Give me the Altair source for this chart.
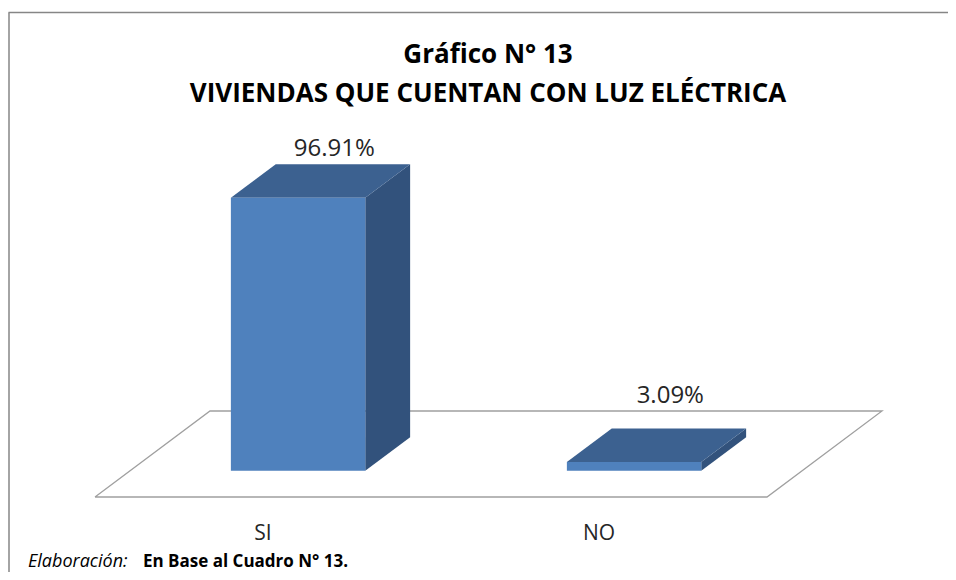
import altair as alt
import pandas as pd

# ---------------- data ----------------
categories = ["SI", "NO"]
values = [96.91, 3.09]
value_labels = ["96.91%", "3.09%"]
title_lines = ["Gráfico N° 13", "VIVIENDAS QUE CUENTAN CON LUZ ELÉCTRICA"]
footer_italic = "Elaboración:"
footer_bold = "En Base al Cuadro N° 13."

# ---------------- layout / projection ----------------
W, H = 940, 564
PX_PER_SLOT = 336.0            # px per category slot
PX_PER_PCT = 273.0 / 96.91     # px per percent
ORIGIN_X = 87.0                # chart px of floor front-left corner
ORIGIN_Y = 489.0
DEPTH_DU = 115.0 / PX_PER_SLOT  # depth offset, in slot units
DEPTH_DV = 86.0 / PX_PER_PCT    # depth offset, in percent units
BAR_U0, BAR_U1 = 0.3, 0.7
BAR_W0, BAR_W1 = 0.305, 0.695
LABEL_GAP = 8.5 / PX_PER_PCT

xscale = alt.Scale(domain=[-ORIGIN_X / PX_PER_SLOT, (W - ORIGIN_X) / PX_PER_SLOT], nice=False, zero=False)
yscale = alt.Scale(domain=[(ORIGIN_Y - H) / PX_PER_PCT, ORIGIN_Y / PX_PER_PCT], nice=False, zero=False)

FRONT = "#4F81BD"
TOP = "#3C6190"
SIDE = "#32527C"
FONT = "Open Sans"


def proj(u, v, w):
    return u + DEPTH_DU * w, v + DEPTH_DV * w


front_rows, side_rows, top_rows, label_rows, cat_rows = [], [], [], [], []
for i, (cat, val, lab) in enumerate(zip(categories, values, value_labels)):
    fl_u, fb_v = proj(i + BAR_U0, 0, BAR_W0)
    fr_u, ft_v = proj(i + BAR_U1, val, BAR_W0)
    bl_u, bb_v = proj(i + BAR_U0, 0, BAR_W1)
    br_u, bt_v = proj(i + BAR_U1, val, BAR_W1)
    front_rows.append(dict(bar=cat, x=fl_u, x2=fr_u, y=fb_v, y2=ft_v))
    side_rows += [dict(bar=cat, x=fr_u, y=fb_v, y2=ft_v),
                  dict(bar=cat, x=br_u, y=bb_v, y2=bt_v)]
    top_rows += [dict(bar=cat, x=fl_u, y=ft_v, y2=ft_v),
                 dict(bar=cat, x=bl_u, y=ft_v, y2=bt_v),
                 dict(bar=cat, x=fr_u, y=ft_v, y2=bt_v),
                 dict(bar=cat, x=br_u, y=bt_v, y2=bt_v)]
    lu, _ = proj(i + 0.5, 0, 0.62)
    floor_back_v = proj(0, 0, 1.0)[1]
    label_rows.append(dict(x=lu, y=max(bt_v, floor_back_v) + LABEL_GAP, text=lab))
    cat_rows.append(dict(x=i + 0.5, text=cat))

floor_pts = [(0, 0, 0), (len(categories), 0, 0), (len(categories), 0, 1), (0, 0, 1), (0, 0, 0)]
floor_rows = []
for k, (u, v, w) in enumerate(floor_pts):
    pu, pv = proj(u, v, w)
    floor_rows.append(dict(order=k, x=pu, y=pv))

front_df = pd.DataFrame(front_rows)
side_df = pd.DataFrame(side_rows)
top_df = pd.DataFrame(top_rows)
label_df = pd.DataFrame(label_rows)
cat_df = pd.DataFrame(cat_rows)
floor_df = pd.DataFrame(floor_rows)

X = lambda f: alt.X(f, type="quantitative", scale=xscale, axis=None)
Y = lambda f: alt.Y(f, type="quantitative", scale=yscale, axis=None, stack=None)

floor = alt.Chart(floor_df).mark_line(color="#A0A0A0", strokeWidth=1.3).encode(
    x=X("x"), y=Y("y"), order="order:Q")

side = alt.Chart(side_df).mark_area(color=SIDE, interpolate="linear").encode(
    x=X("x"), y=Y("y"), y2="y2", detail="bar:N")

top = alt.Chart(top_df).mark_area(color=TOP, interpolate="linear").encode(
    x=X("x"), y=Y("y"), y2="y2", detail="bar:N")

front = alt.Chart(front_df).mark_rect(color=FRONT).encode(
    x=X("x"), x2="x2", y=Y("y"), y2="y2")

vlabels = alt.Chart(label_df).mark_text(font=FONT, fontSize=24, color="#262626", baseline="alphabetic").encode(
    x=X("x"), y=Y("y"), text="text:N")

clabels = alt.Chart(cat_df).mark_text(font=FONT, fontSize=21, color="#262626", baseline="alphabetic").encode(
    x=X("x"), y=alt.value(532), text="text:N")

title_df = pd.DataFrame({"text": title_lines, "line": [0, 1]})
title1 = alt.Chart(title_df[title_df.line == 0]).mark_text(
    font=FONT, fontSize=26, fontWeight="bold", color="#000000", baseline="alphabetic").encode(
    x=alt.value(480), y=alt.value(55), text="text:N")
title2 = alt.Chart(title_df[title_df.line == 1]).mark_text(
    font=FONT, fontSize=26, fontWeight="bold", color="#000000", baseline="alphabetic").encode(
    x=alt.value(480), y=alt.value(94), text="text:N")

foot_df = pd.DataFrame({"a": [footer_italic], "b": [footer_bold]})
foot1 = alt.Chart(foot_df).mark_text(font=FONT, fontSize=18, fontStyle="italic", align="left",
                                     baseline="alphabetic", color="#000000").encode(
    x=alt.value(20), y=alt.value(559), text="a:N")
foot2 = alt.Chart(foot_df).mark_text(font=FONT, fontSize=17, fontWeight="bold", align="left",
                                     baseline="alphabetic", color="#000000").encode(
    x=alt.value(135), y=alt.value(559), text="b:N")

border_df = pd.DataFrame({"k": [0]})
border_top = alt.Chart(border_df).mark_rule(color="#868686", strokeWidth=1.5).encode(
    x=alt.value(0.5), x2=alt.value(W), y=alt.value(4.5))
border_left = alt.Chart(border_df).mark_rule(color="#868686", strokeWidth=1.5).encode(
    x=alt.value(1), y=alt.value(4.5), y2=alt.value(H))

chart = alt.layer(
    border_top, border_left, floor, side, top, front, vlabels, clabels, title1, title2, foot1, foot2
).properties(
    width=W, height=H, padding=0, autosize=alt.AutoSizeParams(type="none")
).configure(
    background="white", view=alt.ViewConfig(strokeWidth=0, stroke="transparent")
)

chart.save("out.html", embed_options={"renderer": "svg", "actions": False})
